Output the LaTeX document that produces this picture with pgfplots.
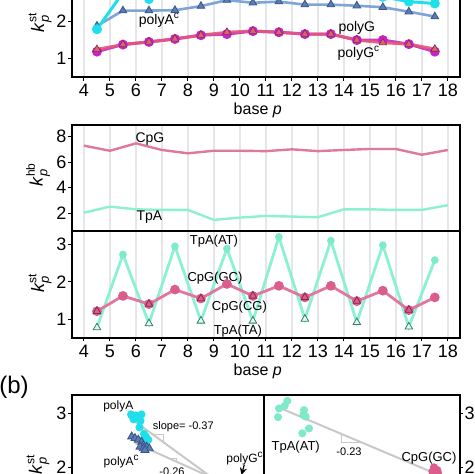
\documentclass[border=0pt]{standalone}
\usepackage{pgfplots}
\pgfplotsset{compat=1.18}
\usepackage{fontspec}
\setmainfont{Liberation Sans}
\definecolor{cyanA}{HTML}{1EE0EA}
\definecolor{lineAc}{HTML}{7FA4D6}
\definecolor{markAc}{HTML}{5B7DB5}
\definecolor{edgeAc}{HTML}{3A5585}
\definecolor{lineG}{HTML}{C53FC0}
\definecolor{markG}{HTML}{C822C8}
\definecolor{lineGc}{HTML}{E4567E}
\definecolor{markGc}{HTML}{DD6468}
\definecolor{aqua}{HTML}{8CF0D2}
\definecolor{aquaM}{HTML}{7EEACA}
\definecolor{aquaE}{HTML}{2F7F68}
\definecolor{pinkL}{HTML}{E0779F}
\definecolor{pinkM}{HTML}{DC5C8C}
\definecolor{pinkE}{HTML}{7A2E4E}
\definecolor{gridc}{HTML}{E6E6E6}
\definecolor{regc}{HTML}{C8C8C8}
\newcommand{\kp}[1]{\textit{k}\makebox[0pt][l]{\raisebox{0.8ex}{\fontsize{6}{6}\selectfont #1}}\raisebox{-0.5ex}{\fontsize{6.5}{6}\selectfont\itshape p}}
\pgfplotsset{
  base/.style={scale only axis, axis line style={line width=1pt},
    tick align=outside, major tick length=1.8pt, tick style={black, line width=0.5pt},
    ticklabel style={font=\fontsize{9}{10}\selectfont},
    yticklabel style={inner sep=0.6pt},
    /pgf/number format/assume math mode=true,
    ylabel style={anchor=center, font=\fontsize{9}{10}\selectfont}},
  panel/.style={base, width=194pt, xmin=3.52, xmax=18.45, xtick={4,...,18},
    xmajorgrids, major grid style={gridc, line width=0.7pt},
    xtick pos=lower, ytick pos=lower},
}
\begin{document}
\begin{tikzpicture}[x=1pt,y=1pt]
\useasboundingbox (0,0) rectangle (237,237);
\clip (0,0) rectangle (237,237);
% ---------- panel a1 ----------
\begin{axis}[panel, at={(35.75pt,198.5pt)}, anchor=south west, height=53.15pt,
  ymin=0.5, ymax=3.35, ytick={1,2,3},
  ylabel={\kp{st}}, ylabel style={at={(axis description cs:-0.081,0.5)}},
  xlabel={base \textit{p}}, xlabel style={at={(axis description cs:0.48,0)}, anchor=center, yshift=-16.6pt, font=\fontsize{8}{9}\selectfont},
  xticklabel style={anchor=north, inner sep=0pt, yshift=-1.7pt}]
\addplot[lineAc, line width=1.3pt, mark=triangle*, mark size=2.2pt, mark options={fill=markAc, draw=edgeAc, line width=0.4pt}]
 coordinates {(4.5,1.87)(5.5,2.28)(6.5,2.28)(7.5,2.29)(8.5,2.40)(9.5,2.56)(10.5,2.49)(11.5,2.52)(12.5,2.44)(13.5,2.44)(14.5,2.41)(15.5,2.37)(16.5,2.25)(17.5,2.12)};
\addplot[cyanA, line width=1.5pt, mark=*, mark size=1.7pt, mark options={fill=cyanA, draw=cyanA}]
 coordinates {(4.5,1.78)(5.5,2.76)(6.5,2.59)(7.5,2.90)(8.5,2.85)(9.5,3.00)(10.5,2.95)(11.5,2.98)(12.5,2.88)(13.5,2.86)(14.5,2.72)(15.5,2.65)(16.5,2.52)(17.5,2.47)};
\addplot[lineG, line width=1.5pt, mark=*, mark size=1.7pt, mark options={fill=markG, draw=markG}]
 coordinates {(4.5,1.18)(5.5,1.37)(6.5,1.44)(7.5,1.52)(8.5,1.62)(9.5,1.65)(10.5,1.73)(11.5,1.70)(12.5,1.65)(13.5,1.65)(14.5,1.49)(15.5,1.49)(16.5,1.38)(17.5,1.18)};
\addplot[lineGc, line width=1.5pt, opacity=0.9, mark=triangle*, mark size=2.2pt, mark options={fill=markGc, draw=pinkE, line width=0.3pt, opacity=1}]
 coordinates {(4.5,1.24)(5.5,1.37)(6.5,1.44)(7.5,1.52)(8.5,1.62)(9.5,1.70)(10.5,1.73)(11.5,1.70)(12.5,1.65)(13.5,1.65)(14.5,1.49)(15.5,1.42)(16.5,1.38)(17.5,1.25)};
\node[font=\fontsize{7}{8}\selectfont] at (axis cs:6.9,2.03) {polyA\textsuperscript{c}};
\node[font=\fontsize{7}{8}\selectfont] at (axis cs:14.5,1.81) {polyG};
\node[font=\fontsize{7}{8}\selectfont] at (axis cs:14.58,1.14) {polyG\textsuperscript{c}};
\end{axis}
% ---------- panel a2 ----------
\begin{axis}[panel, at={(35.75pt,121.5pt)}, anchor=south west, height=53pt,
  ymin=0.61, ymax=8.92, ytick={2,4,6,8}, xticklabels={}, xtick style={draw=none},
  ylabel={\kp{hb}}, ylabel style={at={(axis description cs:-0.086,0.5)}}]
\addplot[pinkL, line width=1.2pt]
 coordinates {(4,7.30)(5,6.90)(6,7.48)(7,6.96)(8,6.70)(9,6.90)(10,6.90)(11,6.87)(12,7.01)(13,6.87)(14,6.96)(15,7.04)(16,7.04)(17,6.59)(18,6.96)};
\addplot[aqua, line width=1.2pt]
 coordinates {(4,2.05)(5,2.52)(6,2.31)(7,2.26)(8,2.26)(9,1.48)(10,1.66)(11,1.79)(12,1.74)(13,1.69)(14,2.31)(15,2.31)(16,2.26)(17,2.26)(18,2.63)};
\node[font=\fontsize{7}{8}\selectfont] at (axis cs:6.54,7.82) {CpG};
\node[font=\fontsize{7}{8}\selectfont] at (axis cs:6.52,1.67) {TpA};
\end{axis}
% ---------- panel a3 ----------
\begin{axis}[panel, at={(35.75pt,68.15pt)}, anchor=south west, height=53.35pt,
  ymin=0.5, ymax=3.36, ytick={1,2,3},
  ylabel={\kp{st}}, ylabel style={at={(axis description cs:-0.081,0.5)}},
  xlabel={base \textit{p}}, xlabel style={at={(axis description cs:0.48,0)}, anchor=center, yshift=-16.6pt, font=\fontsize{8}{9}\selectfont},
  xticklabel style={anchor=north, inner sep=0pt, yshift=-1.7pt}]
\addplot[aqua, line width=1.4pt]
 coordinates {(4.5,0.77)(5.5,2.73)(6.5,0.88)(7.5,2.95)(8.5,0.95)(9.5,2.89)(10.5,0.95)(11.5,3.20)(12.5,1.00)(13.5,3.10)(14.5,0.91)(15.5,2.98)(16.5,0.79)(17.5,2.58)};
\addplot[only marks, mark=*, mark size=1.7pt, mark options={fill=aquaM, draw=aquaM}]
 coordinates {(5.5,2.73)(7.5,2.95)(9.5,2.89)(11.5,3.20)(13.5,3.10)(15.5,2.98)(17.5,2.58)};
\addplot[only marks, mark=triangle*, mark size=2.2pt, mark options={fill=aqua!25, draw=aquaE, line width=0.4pt}]
 coordinates {(4.5,0.77)(6.5,0.88)(8.5,0.95)(10.5,0.95)(12.5,1.00)(14.5,0.91)(16.5,0.79)};
\addplot[pinkL, line width=1.4pt, mark=*, mark size=1.7pt, mark options={fill=pinkM, draw=pinkM}]
 coordinates {(4.5,1.21)(5.5,1.62)(6.5,1.40)(7.5,1.79)(8.5,1.55)(9.5,1.94)(10.5,1.62)(11.5,1.89)(12.5,1.58)(13.5,1.89)(14.5,1.48)(15.5,1.76)(16.5,1.24)(17.5,1.58)};
\addplot[only marks, mark=triangle*, mark size=2.2pt, mark options={fill=pinkM, draw=pinkE, line width=0.4pt}]
 coordinates {(4.5,1.21)(6.5,1.40)(8.5,1.55)(10.5,1.62)(12.5,1.58)(14.5,1.48)(16.5,1.24)};
\node[font=\fontsize{6.5}{7}\selectfont] at (axis cs:9.0,3.09) {TpA(AT)};
\node[font=\fontsize{6.5}{7}\selectfont] at (axis cs:9.04,2.09) {CpG(GC)};
\node[font=\fontsize{6.5}{7}\selectfont] at (axis cs:9.98,1.33) {CpG(CG)};
\node[font=\fontsize{6.5}{7}\selectfont] at (axis cs:9.92,0.68) {TpA(TA)};
\end{axis}
\node[font=\fontsize{12}{13}\selectfont, anchor=west, inner sep=0pt] at (-0.5,43.5) {(b)};
% ---------- panel b left ----------
\begin{axis}[base, at={(35.75pt,-31.75pt)}, anchor=south west, width=96.25pt, height=71.25pt,
  xmin=71.5, xmax=264, ymin=0.7, ymax=3.34, xtick=\empty, ytick={2,3}, ytick pos=left,
  ylabel={\kp{st}}, ylabel style={at={(axis description cs:-0.174,0.5)}}]
\addplot[regc, line width=1pt] coordinates {(128.3,2.94)(240,1.43)};
\addplot[regc, line width=1pt] coordinates {(135,2.45)(240,1.575)};
\addplot[regc, line width=0.5pt] coordinates {(153.3,2.602)(163.3,2.602)(163.3,2.467)};
\addplot[regc, line width=0.5pt] coordinates {(168.3,2.172)(176.7,2.172)(176.7,2.103)};
\addplot[only marks, mark=*, mark size=1.8pt, mark options={fill=cyanA, draw=cyanA}]
 coordinates {(131,2.98)(136,2.96)(141.5,2.98)(133.5,2.89)(140.5,2.86)(139.5,2.74)(144,2.62)(146,2.57)(148.3,2.51)(142.5,2.50)(145,2.48)};
\addplot[only marks, mark=triangle*, mark size=2.3pt, mark options={fill=markAc, draw=edgeAc, line width=0.4pt}]
 coordinates {(131.7,2.57)(135,2.54)(138.3,2.51)(141.7,2.47)(143.3,2.41)(140,2.38)(143.3,2.35)(146.7,2.38)(149.3,2.35)(145,2.32)};
\node[font=\fontsize{6}{7}\selectfont] at (axis cs:118.3,3.12) {polyA};
\node[font=\fontsize{6}{7}\selectfont] at (axis cs:121.7,2.10) {polyA\textsuperscript{c}};
\node[font=\fontsize{5.5}{6}\selectfont] at (axis cs:183.3,2.75) {slope= -0.37};
\node[font=\fontsize{5.5}{6}\selectfont] at (axis cs:172,1.92) {-0.26};
\node[font=\fontsize{6}{7}\selectfont] at (axis cs:245,2.17) {polyG\textsuperscript{c}};
\draw[-stealth, line width=0.6pt] (axis cs:244.3,2.05) -- (axis cs:241.5,1.86);
\end{axis}
% ---------- panel b right ----------
\begin{axis}[base, at={(132pt,-31.75pt)}, anchor=south west, width=97.75pt, height=71.25pt,
  xmin=264, xmax=459.5, ymin=0.7, ymax=3.34, xtick=\empty, ytick={2,3}, ytick pos=right,
  yticklabel style={anchor=west}]
\addplot[regc, line width=1pt] coordinates {(277.3,3.12)(450,1.77)};
\addplot[regc, line width=0.5pt] coordinates {(341.3,2.62)(341.3,2.468)(360.7,2.468)};
\addplot[only marks, mark=*, mark size=1.8pt, mark options={fill=aquaM, draw=aquaM}]
 coordinates {(287.3,3.23)(284.7,3.14)(279,3.09)(278,2.93)(304,3.06)(303.3,2.97)(305.7,2.94)(309,2.72)(302.3,2.63)};
\addplot[only marks, mark=*, mark size=1.8pt, mark options={fill=pinkM, draw=pinkM}]
 coordinates {(434,2.00)(437.3,1.95)(435.7,1.86)(432.3,1.92)(438,1.90)};
\node[font=\fontsize{6.5}{7}\selectfont] at (axis cs:295.7,2.38) {TpA(AT)};
\node[font=\fontsize{5.5}{6}\selectfont] at (axis cs:349,2.29) {-0.23};
\node[font=\fontsize{6.5}{7}\selectfont] at (axis cs:429,2.17) {CpG(GC)};
\end{axis}
\end{tikzpicture}
\end{document}
